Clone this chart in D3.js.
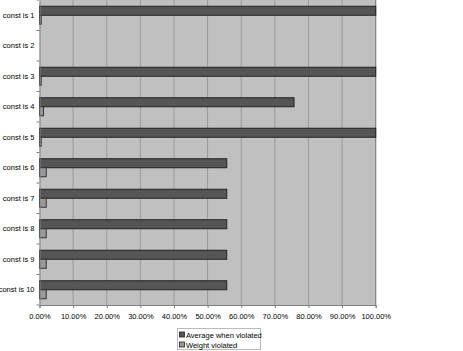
<!DOCTYPE html>
<html><head><meta charset="utf-8">
<script src="https://cdn.jsdelivr.net/npm/d3@7"></script>
<style>body{margin:0;background:#fff}svg{display:block}</style>
</head><body>
<script>
const categories = ["const is 1","const is 2","const is 3","const is 4","const is 5","const is 6","const is 7","const is 8","const is 9","const is 10"];
const averageWhenViolated = [1.0, 0, 1.0, 0.757, 1.0, 0.557, 0.557, 0.557, 0.557, 0.557];
const weightViolated = [0.005, 0, 0.005, 0.012, 0.005, 0.02, 0.02, 0.02, 0.02, 0.02];
const seriesNames = ["Average when violated", "Weight violated"];
const tickValues = [0,0.1,0.2,0.3,0.4,0.5,0.6,0.7,0.8,0.9,1.0];

const W = 463, H = 351;
const m = {left: 39.5, right: 375.7, top: 0, bottom: 305};
const svg = d3.select("body").append("svg").attr("width", W).attr("height", H);
const font = "'Liberation Sans', Arial, sans-serif";

const x = d3.scaleLinear().domain([0,1]).range([m.left, m.right]);
const y = d3.scaleBand().domain(categories).range([m.top, m.bottom]).paddingInner(0.41).paddingOuter(0.205);
const yS = d3.scaleBand().domain(seriesNames).range([0, y.bandwidth()]);

svg.append("rect").attr("x", m.left).attr("y", m.top).attr("width", m.right - m.left).attr("height", m.bottom - m.top).attr("fill", "#c0c0c0");

// gridlines
svg.append("g").selectAll("line").data(tickValues.slice(1, -1)).join("line")
  .attr("x1", d => x(d)).attr("x2", d => x(d)).attr("y1", m.top).attr("y2", m.bottom)
  .attr("stroke", "#999").attr("stroke-width", 1);
svg.append("line").attr("x1", m.right).attr("x2", m.right).attr("y1", m.top).attr("y2", m.bottom).attr("stroke", "#808080").attr("stroke-width", 1.2);

const colors = ["#555555", "#999999"];
const strokes = ["#222222", "#333333"];
const data = categories.map((c, i) => ({c, vals: [averageWhenViolated[i], weightViolated[i]]}));
const g = svg.append("g");
data.forEach(d => {
  d.vals.forEach((v, k) => {
    if (v <= 0) return;
    g.append("rect")
      .attr("x", x(0)).attr("y", y(d.c) + yS(seriesNames[k]))
      .attr("width", x(v) - x(0)).attr("height", yS.bandwidth())
      .attr("fill", colors[k]).attr("stroke", strokes[k]).attr("stroke-width", 1);
  });
});

// x axis
const xAxis = d3.axisBottom(x).tickValues(tickValues).tickFormat(d3.format(".2%")).tickSize(3);
const xa = svg.append("g").attr("transform", `translate(0,${m.bottom})`).call(xAxis);
xa.select(".domain").attr("stroke", "#808080");
xa.selectAll(".tick line").attr("stroke", "#808080");
xa.selectAll("text").attr("font-family", font).attr("font-size", 7.5).attr("fill", "#000").attr("dy", "1.1em");

// y axis
const yAxis = d3.axisLeft(y).tickSize(0).tickPadding(5);
const ya = svg.append("g").attr("transform", `translate(${m.left},0)`).call(yAxis);
ya.select(".domain").attr("stroke", "#808080");
ya.selectAll("text").attr("font-family", font).attr("font-size", 7.5).attr("fill", "#000");
// category separators ticks
const step = y.step();
svg.append("g").selectAll("line").data(d3.range(categories.length + 1)).join("line")
  .attr("x1", m.left - 3).attr("x2", m.left).attr("y1", i => m.top + i * step).attr("y2", i => m.top + i * step)
  .attr("stroke", "#808080");

// legend
const lg = svg.append("g");
lg.append("rect").attr("x", 177.5).attr("y", 328.5).attr("width", 83).attr("height", 21).attr("fill", "#fff").attr("stroke", "#bbb");
seriesNames.forEach((n, k) => {
  const yy = 335 + k * 10;
  lg.append("rect").attr("x", 179.5).attr("y", yy - 3).attr("width", 5).attr("height", 5).attr("fill", colors[k]).attr("stroke", "#222").attr("stroke-width", 0.8);
  lg.append("text").attr("x", 186).attr("y", yy + 2.5).attr("font-family", font).attr("font-size", 7.5).attr("fill", "#000").text(n);
});
</script>
</body></html>
